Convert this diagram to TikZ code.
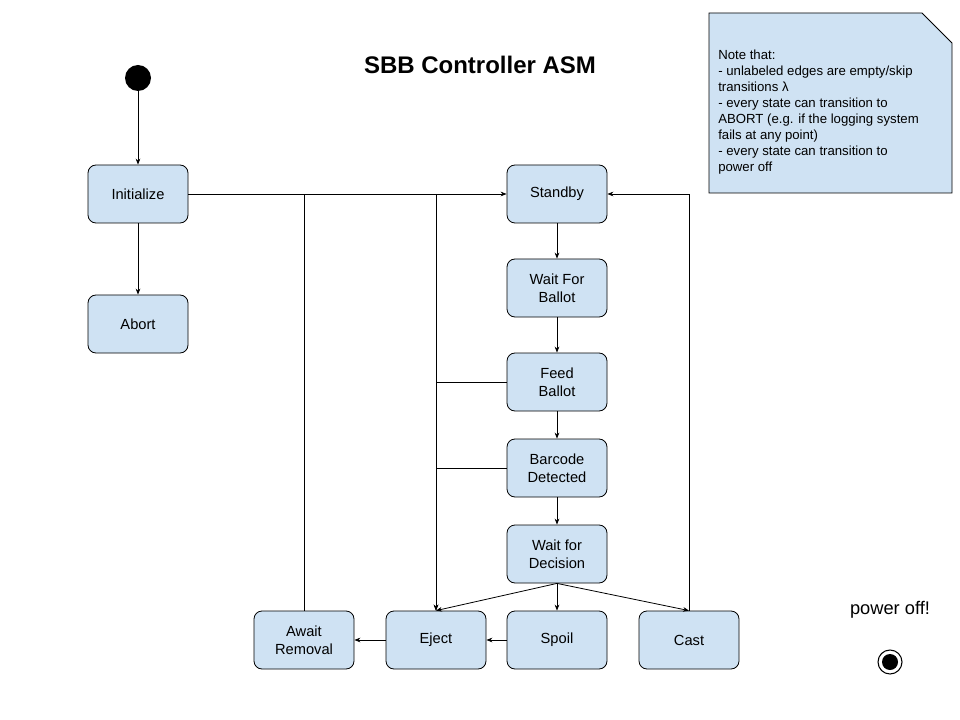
\documentclass[tikz,border=0pt]{standalone}
\usepackage{fontspec}
\setmainfont{Liberation Sans}
\usetikzlibrary{arrows.meta}
\begin{document}
\begin{tikzpicture}[x=0.75pt, y=-0.75pt,
  statebox/.style={draw, fill=col, rectangle, rounded corners=6pt, minimum width=75pt, minimum height=43.5pt, align=center, font=\fontsize{11}{13.5}\selectfont, line width=0.6pt},
  arr/.style={-{Stealth[length=4.5pt, width=3.5pt]}, line width=0.6pt},
  line/.style={line width=0.6pt}]
\definecolor{col}{HTML}{CFE2F3}
\useasboundingbox (0,0) rectangle (960,720);
\node[font=\fontsize{18}{21}\selectfont\bfseries] (title) at (480,65) {SBB Controller ASM};
\fill[col] (709,13) -- (922,13) -- (952,43) -- (952,193) -- (709,193) -- cycle;
\draw[line] (709,13) -- (922,13) -- (952,43) -- (952,193) -- (709,193) -- cycle;
\node[anchor=north west, align=left, inner sep=0pt, font=\fontsize{9.9}{12}\selectfont] (note) at (718,50) {Note that:\\- unlabeled edges are empty/skip\\transitions λ\\- every state can transition to\\ABORT (e.g. if the logging system\\fails at any point)\\- every state can transition to\\power off};
\node[circle, fill=black, minimum size=19.5pt, inner sep=0pt] (start) at (138,78) {};
\node[statebox] (init) at (138,194) {Initialize};
\node[statebox] (abort) at (138,324) {Abort};
\node[statebox] (standby) at (557,194) {Standby};
\node[statebox] (waitballot) at (557,288) {Wait For\\Ballot};
\node[statebox] (feed) at (557,382) {Feed\\Ballot};
\node[statebox] (barcode) at (557,468) {Barcode\\Detected};
\node[statebox] (decision) at (557,554) {Wait for\\Decision};
\node[statebox] (spoil) at (557,640) {Spoil};
\node[statebox] (cast) at (689,640) {Cast};
\node[statebox] (eject) at (436,640) {Eject};
\node[statebox] (await) at (304,640) {Await\\Removal};
\node[font=\fontsize{13.7}{16}\selectfont] (offtext) at (890,610) {power off!};
\node[circle, draw, line width=0.8pt, minimum size=18pt, inner sep=0pt] (stop) at (890,662) {};
\fill (stop) circle (6pt);
\draw[arr] (start) -- (init);
\draw[arr] (init) -- (abort);
\draw[arr] (init) -- (standby);
\draw[line] (await.north) -- (await.north |- init.east);
\draw[line] (eject.north |- standby.west) -- (eject.north |- feed.west);
\draw[arr] (feed.west) -| (eject.north);
\draw[arr] (barcode.west) -| (eject.north);
\draw[arr] (cast.north) |- (standby.east);
\draw[arr] (standby) -- (waitballot);
\draw[arr] (waitballot) -- (feed);
\draw[arr] (feed) -- (barcode);
\draw[arr] (barcode) -- (decision);
\draw[arr] (decision.south) -- (eject.north);
\draw[arr] (decision) -- (spoil);
\draw[arr] (decision.south) -- (cast.north);
\draw[arr] (spoil) -- (eject);
\draw[arr] (eject) -- (await);
\end{tikzpicture}
\end{document}
